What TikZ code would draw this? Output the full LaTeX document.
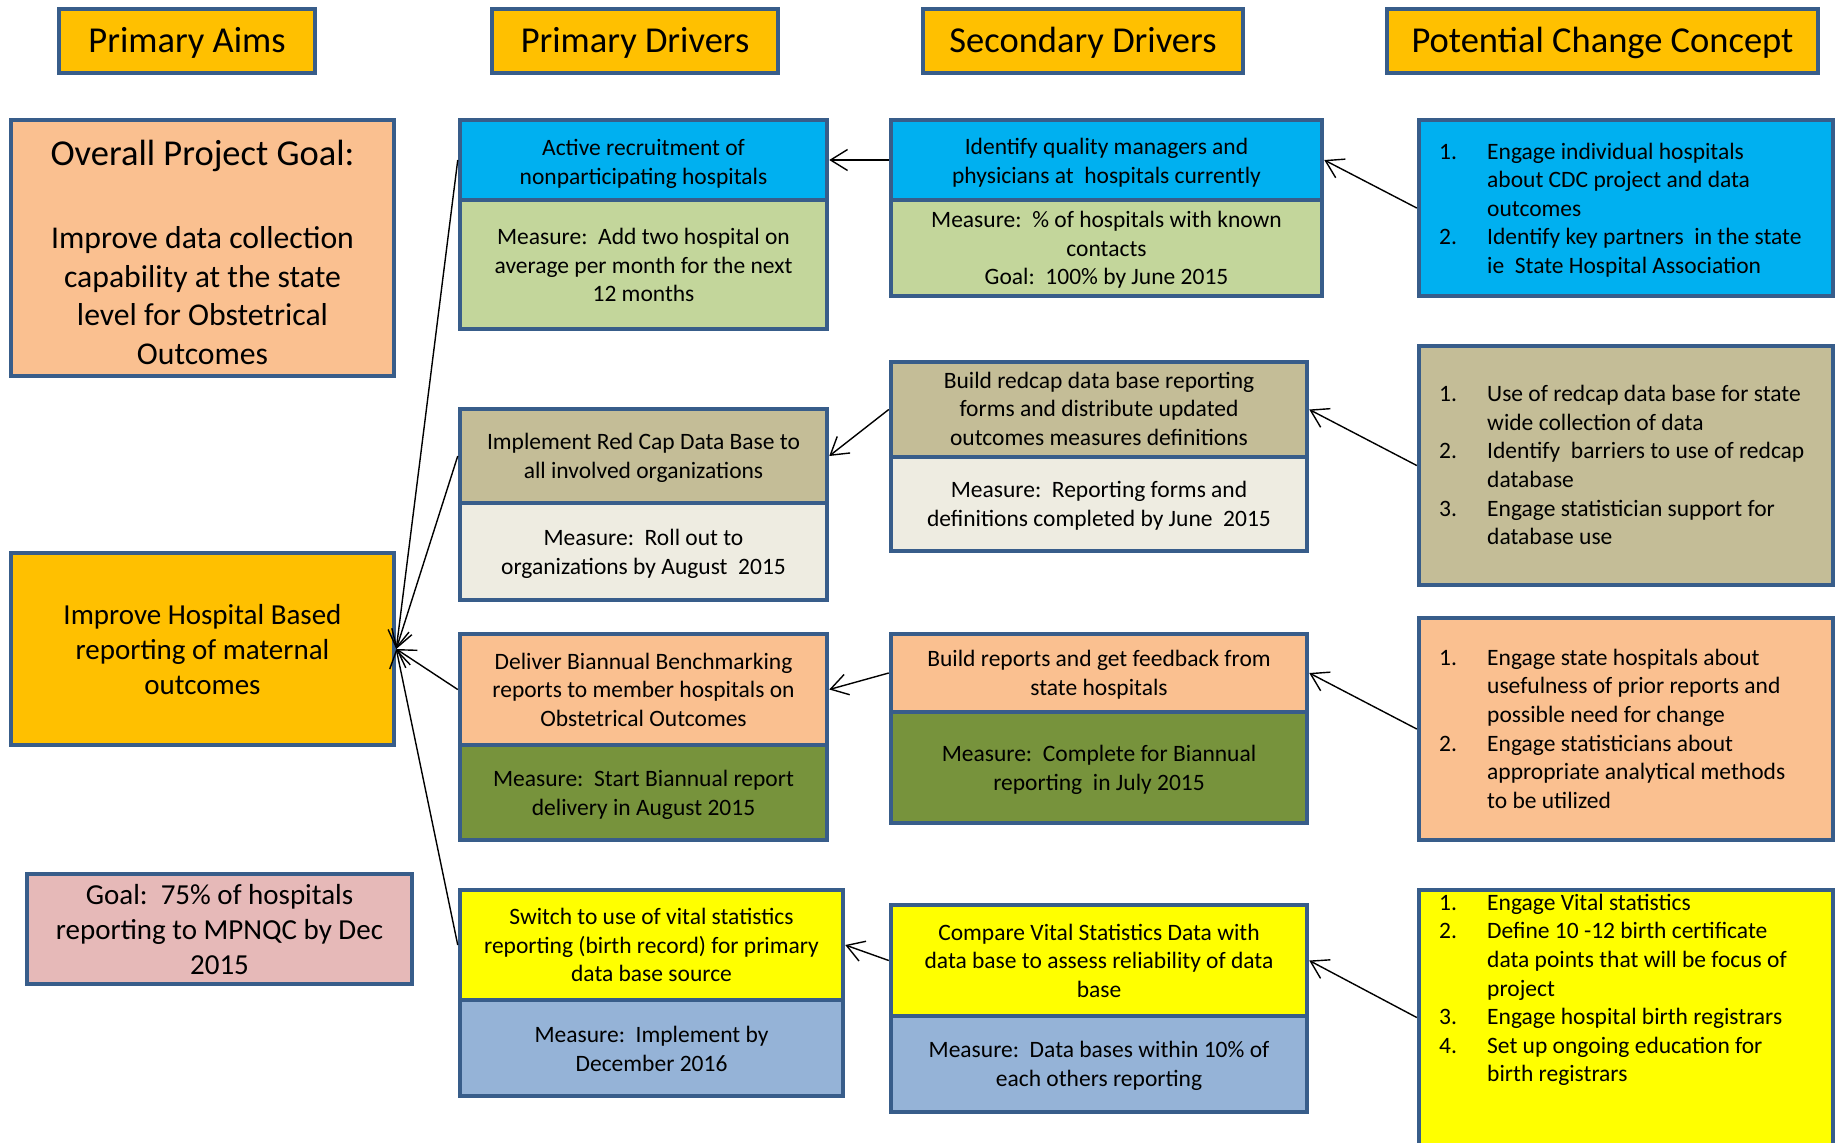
\documentclass[tikz,border=0pt]{standalone}
\usepackage{fontspec}
\setmainfont{Carlito}
\usetikzlibrary{arrows.meta}

% palette
\definecolor{bordc}{HTML}{385D8A}
\definecolor{cGold}{HTML}{FFC000}
\definecolor{cPeach}{HTML}{FAC090}
\definecolor{cRose}{HTML}{E6B9B8}
\definecolor{cCyan}{HTML}{00B0F0}
\definecolor{cLime}{HTML}{C3D69B}
\definecolor{cTan}{HTML}{C4BD97}
\definecolor{cCream}{HTML}{EEECE1}
\definecolor{cOlive}{HTML}{77933C}
\definecolor{cYellow}{HTML}{FFFF00}
\definecolor{cSky}{HTML}{95B3D7}

% type sizes
\newcommand\fTitle{\fontsize{36.5}{44}\selectfont}
\newcommand\fGoal{\fontsize{31.7}{38.7}\selectfont}
\newcommand\fAim{\fontsize{29}{35}\selectfont}
\newcommand\fBody{\fontsize{23.5}{28.6}\selectfont}

% centred lines, set a little below the middle of their box
\newcommand\tx[2][2.5pt]{\raisebox{-#1}[\height][\depth]{\begin{tabular}{@{}c@{}}#2\end{tabular}}}

\begin{document}
\begin{tikzpicture}[x=1pt,y=-1pt,
  sect/.style={draw=bordc, line width=4.5pt, inner sep=0pt, font=\fBody, text=black},
  hdr/.style={sect, font=\fTitle, fill=cGold, minimum height=64pt},
  pdw/.style={minimum width=367pt},
  sdw/.style={minimum width=416pt},
  ccw/.style={minimum width=414pt},
  arr/.style={draw=black, line width=1.4pt, -{Straight Barb[length=17pt,width=21pt]}},
  steps/.style={font=\fBody, inner sep=0pt, anchor=west, text=black}
]
\useasboundingbox (0,0) rectangle (1837,1143);

% column headings
\node[hdr, minimum width=256pt] (tAims) at (187,41) {\tx[3pt]{Primary Aims}};
\node[hdr, minimum width=286pt] (tPD) at (635,41) {\tx[3pt]{Primary Drivers}};
\node[hdr, minimum width=320pt] (tSD) at (1083,41) {\tx[3pt]{Secondary Drivers}};
\node[hdr, minimum width=431pt] (tCC) at (1602.5,41) {\tx[3pt]{Potential Change Concept}};

% primary aims
\node[sect, fill=cPeach, minimum width=383pt, minimum height=256pt] (og) at (202.5,248) {};
\node[font=\fTitle, inner sep=0pt] (ogtitle) at (202.5,155.5) {Overall Project Goal:};
\node[font=\fGoal, align=center, inner sep=0pt] (ogbody) at (202.5,295.5) {Improve data collection\\capability at the state\\level for Obstetrical\\Outcomes};
\node[sect, fill=cGold, font=\fAim, minimum width=383pt, minimum height=192pt] (ih) at (202.5,649)
  {\tx[3.5pt]{Improve Hospital Based\\reporting of maternal\\outcomes}};
\node[sect, fill=cRose, font=\fAim, minimum width=385pt, minimum height=110pt] (g75) at (219.5,929)
  {\tx[3.5pt]{Goal:\ \ 75\% of hospitals\\reporting to MPNQC by Dec\\2015}};

% primary drivers
\node[sect, pdw, fill=cCyan, minimum height=80pt] (pd1h) at (643.5,160)
  {\tx[4.5pt]{Active recruitment of\\nonparticipating hospitals}};
\node[sect, pdw, fill=cLime, minimum height=129pt] (pd1m) at (643.5,264.5)
  {\tx[3pt]{Measure:\ \ Add two hospital on\\average per month for the next\\12 months}};
\node[sect, pdw, fill=cTan, minimum height=94pt] (pd2h) at (643.5,456)
  {\tx{Implement Red Cap Data Base to\\all involved organizations}};
\node[sect, pdw, fill=cCream, minimum height=97pt] (pd2m) at (643.5,551.5)
  {\tx{Measure:\ \ Roll out to\\organizations by August\ \ 2015}};
\node[sect, pdw, fill=cPeach, minimum height=111pt] (pd3h) at (643.5,689.5)
  {\tx{Deliver Biannual Benchmarking\\reports to member hospitals on\\Obstetrical Outcomes}};
\node[sect, pdw, fill=cOlive, minimum height=95pt] (pd3m) at (643.5,792.5)
  {\tx{Measure:\ \ Start Biannual report\\delivery in August 2015}};
\node[sect, minimum width=383pt, fill=cYellow, minimum height=110pt] (pd4h) at (651.5,945)
  {\tx{Switch to use of vital statistics\\reporting (birth record) for primary\\data base source}};
\node[sect, minimum width=383pt, fill=cSky, minimum height=96pt] (pd4m) at (651.5,1048)
  {\tx[3pt]{Measure:\ \ Implement by\\December 2016}};

% secondary drivers
\node[sect, minimum width=431pt, fill=cCyan, minimum height=80pt] (sd1h) at (1106.5,160)
  {\tx[3pt]{Identify quality managers and\\physicians at\ \ hospitals currently}};
\node[sect, minimum width=431pt, fill=cLime, minimum height=96pt] (sd1m) at (1106.5,248)
  {\tx{Measure:\ \ \% of hospitals with known\\contacts\\Goal:\ \ 100\% by June 2015}};
\node[sect, sdw, fill=cTan, minimum height=95pt] (sd2h) at (1099,409.5)
  {\tx[1.5pt]{Build redcap data base reporting\\forms and distribute updated\\outcomes measures definitions}};
\node[sect, sdw, fill=cCream, minimum height=94pt] (sd2m) at (1099,504)
  {\tx{Measure:\ \ Reporting forms and\\definitions completed by June\ \ 2015}};
\node[sect, sdw, fill=cPeach, minimum height=78pt] (sd3h) at (1099,673)
  {\tx{Build reports and get feedback from\\state hospitals}};
\node[sect, sdw, fill=cOlive, minimum height=111pt] (sd3m) at (1099,767.5)
  {\tx[3pt]{Measure:\ \ Complete for Biannual\\reporting\ \ in July 2015}};
\node[sect, sdw, fill=cYellow, minimum height=111pt] (sd4h) at (1099,960.5)
  {\tx{Compare Vital Statistics Data with\\data base to assess reliability of data\\base}};
\node[sect, sdw, fill=cSky, minimum height=96pt] (sd4m) at (1099,1064)
  {\tx{Measure:\ \ Data bases within 10\% of\\each others reporting}};

% change concepts
\node[sect, ccw, fill=cCyan, minimum height=176pt] (cc1) at (1626,208) {};
\node[sect, ccw, fill=cTan, minimum height=239pt] (cc2) at (1626,465.5) {};
\node[sect, ccw, fill=cPeach, minimum height=222pt] (cc3) at (1626,729) {};
\node[sect, ccw, fill=cYellow, minimum height=255pt] (cc4) at (1626,1017.5) {};

\node[steps] (cc1t) at (1439,210.5) {\begin{tabular}{@{}p{48pt}@{}l@{}}
1. & Engage individual hospitals\\
   & about CDC project and data\\
   & outcomes\\
2. & Identify key partners\ \ in the state\\
   & ie\ \ State Hospital Association
\end{tabular}};
\node[steps] (cc2t) at (1439,467.5) {\begin{tabular}{@{}p{48pt}@{}l@{}}
1. & Use of redcap data base for state\\
   & wide collection of data\\
2. & Identify\ \ barriers to use of redcap\\
   & database\\
3. & Engage statistician support for\\
   & database use
\end{tabular}};
\node[steps] (cc3t) at (1439,731) {\begin{tabular}{@{}p{48pt}@{}l@{}}
1. & Engage state hospitals about\\
   & usefulness of prior reports and\\
   & possible need for change\\
2. & Engage statisticians about\\
   & appropriate analytical methods\\
   & to be utilized
\end{tabular}};
\node[steps, anchor=north west] (cc4t) at (1439,890) {\begin{tabular}{@{}p{48pt}@{}l@{}}
1. & Engage Vital statistics\\
2. & Define 10 -12 birth certificate\\
   & data points that will be focus of\\
   & project\\
3. & Engage hospital birth registrars\\
4. & Set up ongoing education for\\
   & birth registrars
\end{tabular}};

% driver links
\draw[arr] (cc1.west) -- (sd1h.east);
\draw[arr] (cc2.west) -- (sd2h.east);
\draw[arr] (cc3.west) -- (sd3h.east);
\draw[arr] (cc4.west) -- (sd4h.east);
\draw[arr] (sd1h.west) -- (pd1h.east);
\draw[arr] (sd2h.west) -- (pd2h.east);
\draw[arr] (sd3h.west) -- (pd3h.east);
\draw[arr] (sd4h.west) -- (pd4h.east);
\draw[arr] (pd1h.west) -- (ih.east);
\draw[arr] (pd2h.west) -- (ih.east);
\draw[arr] (pd3h.west) -- (ih.east);
\draw[arr] (pd4h.west) -- (ih.east);
\end{tikzpicture}
\end{document}
